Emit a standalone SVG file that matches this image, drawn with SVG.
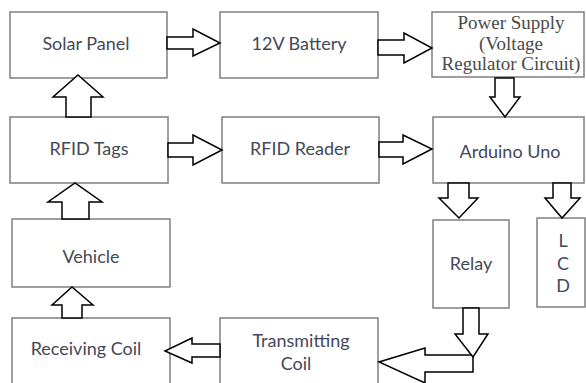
<svg xmlns="http://www.w3.org/2000/svg" width="586" height="383" viewBox="0 0 586 383">
<defs>
<style>
.box{fill:#fff;stroke:#7f7f7f;stroke-width:1.5}
.arr{fill:#fff;stroke:#000;stroke-width:1.5;stroke-linejoin:miter}
.t{font-family:Lato,"Open Sans","Liberation Sans",sans-serif;font-size:18px;fill:#454857;text-anchor:middle}
.s{font-family:"Liberation Serif","DejaVu Serif",serif;font-size:19px;fill:#4a4a4a;text-anchor:middle}
</style>
</defs>
<rect width="586" height="383" fill="#fff"/>
<g id="solar-panel"><rect class="box" x="10" y="12" width="157" height="66"/><text class="t" x="86" y="50">Solar Panel</text></g>
<g id="battery"><rect class="box" x="220" y="12" width="158" height="66"/><text class="t" x="299" y="50">12V Battery</text></g>
<g id="power-supply"><rect class="box" x="432" y="12" width="152" height="65"/><text class="s" x="511" y="29">Power Supply</text><text class="s" x="511" y="50">(Voltage</text><text class="s" x="511" y="70">Regulator Circuit)</text></g>
<g id="rfid-tags"><rect class="box" x="10" y="117" width="158" height="66"/><text class="t" x="89" y="155">RFID Tags</text></g>
<g id="rfid-reader"><rect class="box" x="222" y="117" width="157" height="66"/><text class="t" x="300" y="155">RFID Reader</text></g>
<g id="arduino"><rect class="box" x="433" y="117" width="151" height="66"/><text class="t" x="510" y="158">Arduino Uno</text></g>
<g id="vehicle"><rect class="box" x="12" y="219" width="158" height="68"/><text class="t" x="91" y="263">Vehicle</text></g>
<g id="relay"><rect class="box" x="433" y="220" width="76" height="88"/><text class="t" x="471" y="270">Relay</text></g>
<g id="lcd"><rect class="box" x="537" y="218" width="48" height="89"/><text class="t" x="563" y="247">L</text><text class="t" x="563" y="270">C</text><text class="t" x="563" y="292">D</text></g>
<g id="receiving-coil"><rect class="box" x="12" y="318" width="158" height="70"/><text class="t" x="86" y="355">Receiving Coil</text></g>
<g id="transmitting-coil"><rect class="box" x="220" y="318" width="158" height="70"/><text class="t" x="301" y="347">Transmitting</text><text class="t" x="296" y="370">Coil</text></g>
<g id="connectors">
<polygon class="arr" points="167,37 193,37 193,29 220,43 193,56 193,49 167,49"/>
<polygon class="arr" points="378,40 404,40 404,33 432,48 404,63 404,55 378,55"/>
<polygon class="arr" points="168,143 193,143 193,135 222,150 193,165 193,157 168,157"/>
<polygon class="arr" points="379,142 403,142 403,135 432,149 403,164 403,157 379,157"/>
<polygon class="arr" points="495,78 495,97 490,97 505,117 520,97 514,97 514,78"/>
<polygon class="arr" points="66,117 66,97 53,97 78,75 103,97 91,97 91,117"/>
<polygon class="arr" points="62,219 62,202 48,202 75,183 102,202 89,202 89,219"/>
<polygon class="arr" points="62,318 62,305 52,305 72,287 93,305 82,305 82,318"/>
<polygon class="arr" points="220,344 192,344 192,338 165,351 192,363 192,357 220,357"/>
<polygon class="arr" points="448,183 448,198 439,198 459,218 478,198 469,198 469,183"/>
<polygon class="arr" points="553,183 553,198 545,198 562,218 580,198 571,198 571,183"/>
<polygon class="arr" points="473,355 425,355 425,348 379,362 425,383 425,372 473,372"/>
<polygon class="arr" points="463,308 463,334 455,334 473,357 488,334 479,334 479,308"/>
</g>
</svg>
